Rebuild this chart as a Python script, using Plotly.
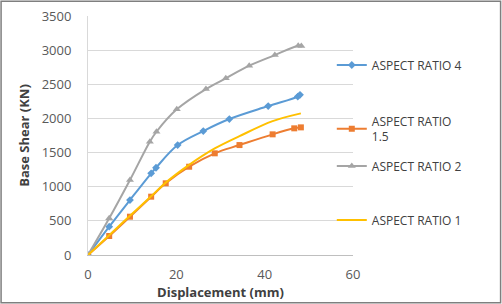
import plotly.graph_objects as go

ar4_x = [0, 4.8, 9.5, 14.3, 15.4, 20.3, 26.1, 32.0, 40.8, 47.5, 48.0]
ar4_y = [0, 415, 805, 1196, 1278, 1610, 1815, 1991, 2181, 2320, 2345]

ar15_x = [0, 4.8, 9.5, 14.3, 17.6, 22.9, 28.7, 34.3, 41.8, 46.7, 48.2]
ar15_y = [0, 278, 561, 854, 1050, 1293, 1489, 1610, 1767, 1855, 1869]

ar2_x = [0, 4.8, 9.5, 14.0, 15.5, 20.1, 26.7, 31.2, 36.5, 42.3, 47.6, 48.3]
ar2_y = [0, 537, 1098, 1659, 1805, 2133, 2430, 2587, 2772, 2928, 3064, 3060]

ar1_x = [0, 4.8, 9.5, 14.3, 17.6, 22.9, 28.7, 34.3, 41.8, 48.2]
ar1_y = [0, 290, 575, 860, 1060, 1320, 1560, 1740, 1960, 2074]

x_ticks = [0, 20, 40, 60]
y_ticks = [0, 500, 1000, 1500, 2000, 2500, 3000, 3500]

names = ["ASPECT RATIO 4", "ASPECT RATIO<br>1.5", "ASPECT RATIO 2", "ASPECT RATIO 1"]
colors = ["#5B9BD5", "#ED7D31", "#A5A5A5", "#FFC000"]

fig = go.Figure()
fig.add_trace(go.Scatter(x=ar4_x, y=ar4_y, name=names[0], mode="lines+markers",
                         line=dict(color=colors[0], width=2, shape="spline"),
                         marker=dict(symbol="diamond", size=6, color=colors[0]),
                         legend="legend2"))
fig.add_trace(go.Scatter(x=ar15_x, y=ar15_y, name=names[1], mode="lines+markers",
                         line=dict(color=colors[1], width=2, shape="spline"),
                         marker=dict(symbol="square", size=6, color=colors[1]),
                         legend="legend3"))
fig.add_trace(go.Scatter(x=ar2_x, y=ar2_y, name=names[2], mode="lines+markers",
                         line=dict(color=colors[2], width=2, shape="spline"),
                         marker=dict(symbol="triangle-up", size=7, color=colors[2]),
                         legend="legend4"))
fig.add_trace(go.Scatter(x=ar1_x, y=ar1_y, name=names[3], mode="lines",
                         line=dict(color=colors[3], width=2, shape="spline"),
                         legend="legend5"))

font = "'Open Sans', sans-serif"
leg_common = dict(x=0.92, xanchor="left", yanchor="middle",
                  bgcolor="rgba(0,0,0,0)", font=dict(family=font, size=12, color="#404040"),
                  itemwidth=30)

fig.update_layout(
    width=502, height=304,
    margin=dict(l=88, r=149, t=16, b=49, autoexpand=False),
    paper_bgcolor="white", plot_bgcolor="white",
    font=dict(family=font, size=12, color="#595959"),
    showlegend=True,
    xaxis=dict(range=[0, 60], tickvals=x_ticks, showgrid=False, zeroline=False,
               showline=True, linecolor="#BFBFBF", linewidth=1, automargin=False,
               ticks="", tickfont=dict(size=13, color="#595959"), ticklabelstandoff=7,
               title=dict(text="<b>Displacement (mm)</b>", standoff=2,
                          font=dict(size=13, color="#404040"))),
    yaxis=dict(range=[0, 3500], tickvals=y_ticks, showgrid=True, gridcolor="#D9D9D9",
               zeroline=False, showline=True, linecolor="#D9D9D9", ticks="", automargin=False,
               tickfont=dict(size=13, color="#595959"), ticklabelstandoff=13,
               title=dict(text="<b>Base Shear (KN)</b>", standoff=9,
                          font=dict(size=13, color="#404040"))),
    legend2=dict(y=0.795, **leg_common),
    legend3=dict(y=0.527, **leg_common),
    legend4=dict(y=0.372, **leg_common),
    legend5=dict(y=0.146, **leg_common),
    shapes=[dict(type="rect", xref="paper", yref="paper",
                 x0=-0.328, x1=1.557, y0=-0.2, y1=1.062,
                 line=dict(color="#7F7F7F", width=1.5), layer="below")],
)

fig.write_html("out.html")
